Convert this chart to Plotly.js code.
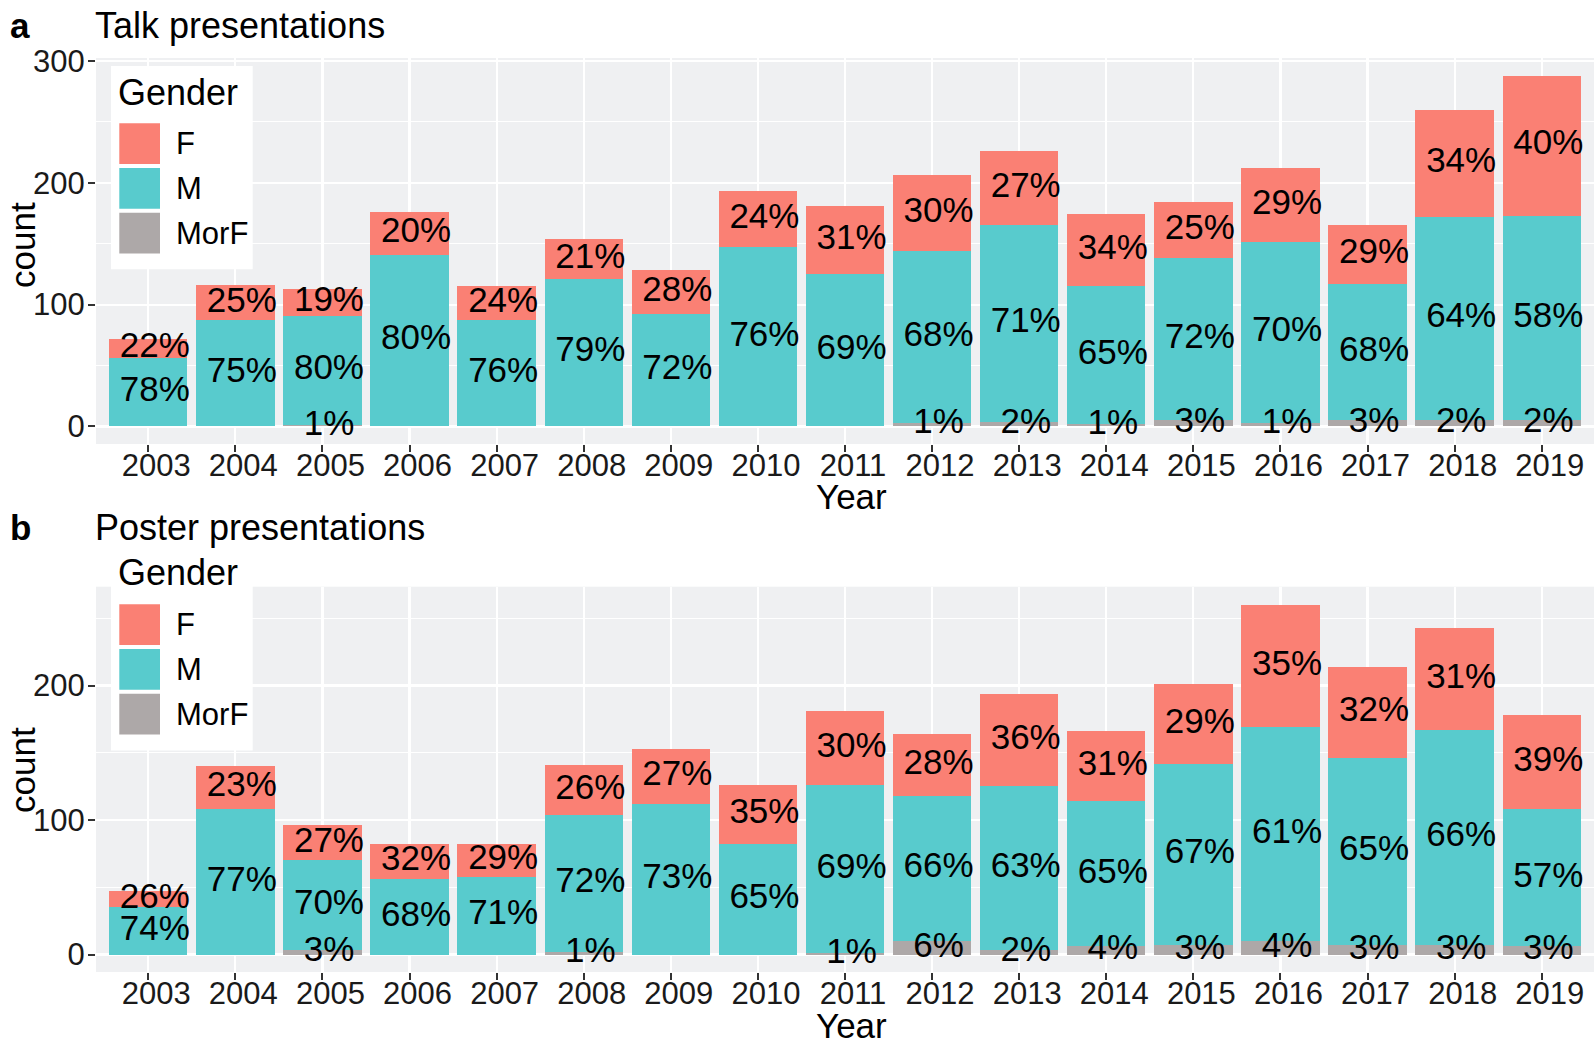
<!DOCTYPE html>
<html>
<head>
<meta charset="utf-8">
<script src="https://cdn.plot.ly/plotly-3.0.1.min.js"></script>
<style>html,body{margin:0;padding:0;background:#fff;}#chart{width:1594px;height:1045px;}</style>
</head>
<body>
<div id="chart"></div>
<script>
// ---------- data ----------
const years = [2003,2004,2005,2006,2007,2008,2009,2010,2011,2012,2013,2014,2015,2016,2017,2018,2019];
const tickLabels = years.map(String);

const talkMorF = [0,0,1,0,0,0,0,0,0,3,4,2,5,3,5,5,5];
const talkM    = [56,87,90,141,87,121,92,147,125,141,161,113,133,148,112,167,168];
const talkF    = [16,29,22,35,28,33,36,46,56,62,61,59,46,61,48,88,115];
const talkMorFLabels = ['','','1%','','','','','','','1%','2%','1%','3%','1%','3%','2%','2%'];
const talkMLabels    = ['78%','75%','80%','80%','76%','79%','72%','76%','69%','68%','71%','65%','72%','70%','68%','64%','58%'];
const talkFLabels    = ['22%','25%','19%','20%','24%','21%','28%','24%','31%','30%','27%','34%','25%','29%','29%','34%','40%'];

const posterMorF = [0,0,3,0,0,2,0,0,1,10,3,6,7,10,7,7,6];
const posterM    = [35,108,67,56,58,102,112,82,125,108,122,108,135,159,139,160,102];
const posterF    = [12,32,26,26,24,37,41,44,55,46,69,52,59,91,68,76,70];
const posterMorFLabels = ['','','3%','','','1%','','','1%','6%','2%','4%','3%','4%','3%','3%','3%'];
const posterMLabels    = ['74%','77%','70%','68%','71%','72%','73%','65%','69%','66%','63%','65%','67%','61%','65%','66%','57%'];
const posterFLabels    = ['26%','23%','27%','32%','29%','26%','27%','35%','30%','28%','36%','31%','29%','35%','32%','31%','39%'];

const genders = ['F','M','MorF'];

// ---------- style ----------
const FONT = 'Liberation Sans, Arial, Helvetica, sans-serif';
const COL = {F:'#FA8074', M:'#58CBCD', MorF:'#ADA8A8'};
const PANEL_BG = '#EFF0F2';
const LABEL_SHIFT = 0.075; // small rightward nudge of the percent labels (in category units)

const ML = 96, MR = 0, MT = 58, MB = 73, FW = 1594, FH = 1045;
const PW = FW - ML - MR, PH = FH - MT - MB;
const px = x => (x - ML) / PW;
const py = y => (FH - MB - y) / PH;

const traces = [];
function addPanel(morf, m, f, lm, lmm, lf, xa, ya) {
  const series = [['MorF', morf], ['M', m], ['F', f]];
  series.forEach(([name, vals]) => {
    traces.push({
      type: 'bar', x: years, y: vals, name: name, xaxis: xa, yaxis: ya,
      marker: {color: COL[name], line: {width: 0}},
      showlegend: false, hoverinfo: 'x+y+name'
    });
  });
  const tx = [], ty = [], tt = [];
  years.forEach((yr, i) => {
    const segs = [[morf[i], lm[i]], [m[i], lmm[i]], [f[i], lf[i]]];
    let base = 0;
    segs.forEach(([v, lab]) => {
      if (lab) { tx.push(yr + LABEL_SHIFT); ty.push(base + v / 2); tt.push(lab); }
      base += v;
    });
  });
  traces.push({
    type: 'scatter', mode: 'text', x: tx, y: ty, text: tt, xaxis: xa, yaxis: ya,
    textposition: 'middle center', textfont: {family: FONT, size: 35, color: '#000'},
    showlegend: false, hoverinfo: 'skip', cliponaxis: false
  });
}
addPanel(talkMorF, talkM, talkF, talkMorFLabels, talkMLabels, talkFLabels, 'x', 'y');
addPanel(posterMorF, posterM, posterF, posterMorFLabels, posterMLabels, posterFLabels, 'x2', 'y2');

const xaxisBase = {
  range: [2002.4, 2019.6], tickmode: 'array', tickvals: years, ticktext: tickLabels,
  showgrid: true, gridcolor: '#FFFFFF', gridwidth: 2.2, zeroline: false, showline: false,
  ticks: 'outside', ticklen: 7, tickwidth: 2, tickcolor: '#333333',
  ticklabelstandoff: -13, ticklabelshift: 8,
  tickfont: {family: FONT, size: 31, color: '#1a1a1a'}, fixedrange: true
};
const yaxisBase = {
  dtick: 100, tick0: 0, showgrid: true, gridcolor: '#FFFFFF', gridwidth: 2.2,
  zeroline: false, showline: false, ticks: 'outside', ticklen: 7, tickwidth: 2, tickcolor: '#333333',
  ticklabelstandoff: -3,
  tickfont: {family: FONT, size: 31, color: '#1a1a1a'},
  minor: {dtick: 50, tick0: 0, showgrid: true, gridcolor: '#FFFFFF', gridwidth: 1.1, ticks: ''},
  fixedrange: true
};

const topDom = [py(444), 1];
const botDom = [0, py(586.7)];

const annotations = [];
function ann(text, x, yc, size, extra) {
  annotations.push(Object.assign({
    text: text, xref: 'paper', yref: 'paper', x: px(x), y: py(yc),
    xanchor: 'left', yanchor: 'middle', showarrow: false,
    font: {family: FONT, size: size, color: '#000'}
  }, extra || {}));
}
// panel tags and titles
ann('<b>a</b>', 8, 25, 35);
ann('Talk presentations', 93, 25, 36);
ann('<b>b</b>', 8, 527, 35);
ann('Poster presentations', 93, 527, 36);
// axis titles
ann('Year', 852, 496, 35, {xanchor: 'center'});
ann('Year', 852, 1025, 35, {xanchor: 'center'});
ann('count', 22, 245, 35, {xanchor: 'center', textangle: -90});
ann('count', 22, 770, 35, {xanchor: 'center', textangle: -90});

const shapes = [];
function rectPix(x0, y0, x1, y1, color) {
  shapes.push({type: 'rect', xref: 'paper', yref: 'paper', x0: px(x0), x1: px(x1), y0: py(y1), y1: py(y0),
    fillcolor: color, line: {width: 0}, layer: 'above'});
}
function legend(boxTop, boxBottom, titleY, keyTops) {
  rectPix(111, boxTop, 252.7, boxBottom, '#FFFFFF');
  ann('Gender', 116, titleY, 36);
  genders.forEach((g, i) => {
    rectPix(119.3, keyTops[i], 160, keyTops[i] + 40.7, COL[g]);
    ann(g, 174, keyTops[i] + 20.3, 31);
  });
}
legend(66, 269.3, 92, [123.3, 168, 212.7]);
legend(540, 750.5, 573, [604.3, 649, 693.7]);

const layout = {
  width: FW, height: FH,
  margin: {l: ML, r: MR, t: MT, b: MB, pad: 0},
  paper_bgcolor: '#FFFFFF', plot_bgcolor: PANEL_BG,
  barmode: 'stack', bargap: 0.1,
  showlegend: false,
  font: {family: FONT},
  xaxis: Object.assign({}, xaxisBase, {anchor: 'y', domain: [0, 1]}),
  yaxis: Object.assign({}, yaxisBase, {anchor: 'x', domain: topDom, range: [-14.4, 302.4]}),
  xaxis2: Object.assign({}, xaxisBase, {anchor: 'y2', domain: [0, 1]}),
  yaxis2: Object.assign({}, yaxisBase, {anchor: 'x2', domain: botDom, range: [-13, 273.5]}),
  annotations: annotations, shapes: shapes
};

Plotly.newPlot('chart', traces, layout, {staticPlot: true, displayModeBar: false});
</script>
</body>
</html>
